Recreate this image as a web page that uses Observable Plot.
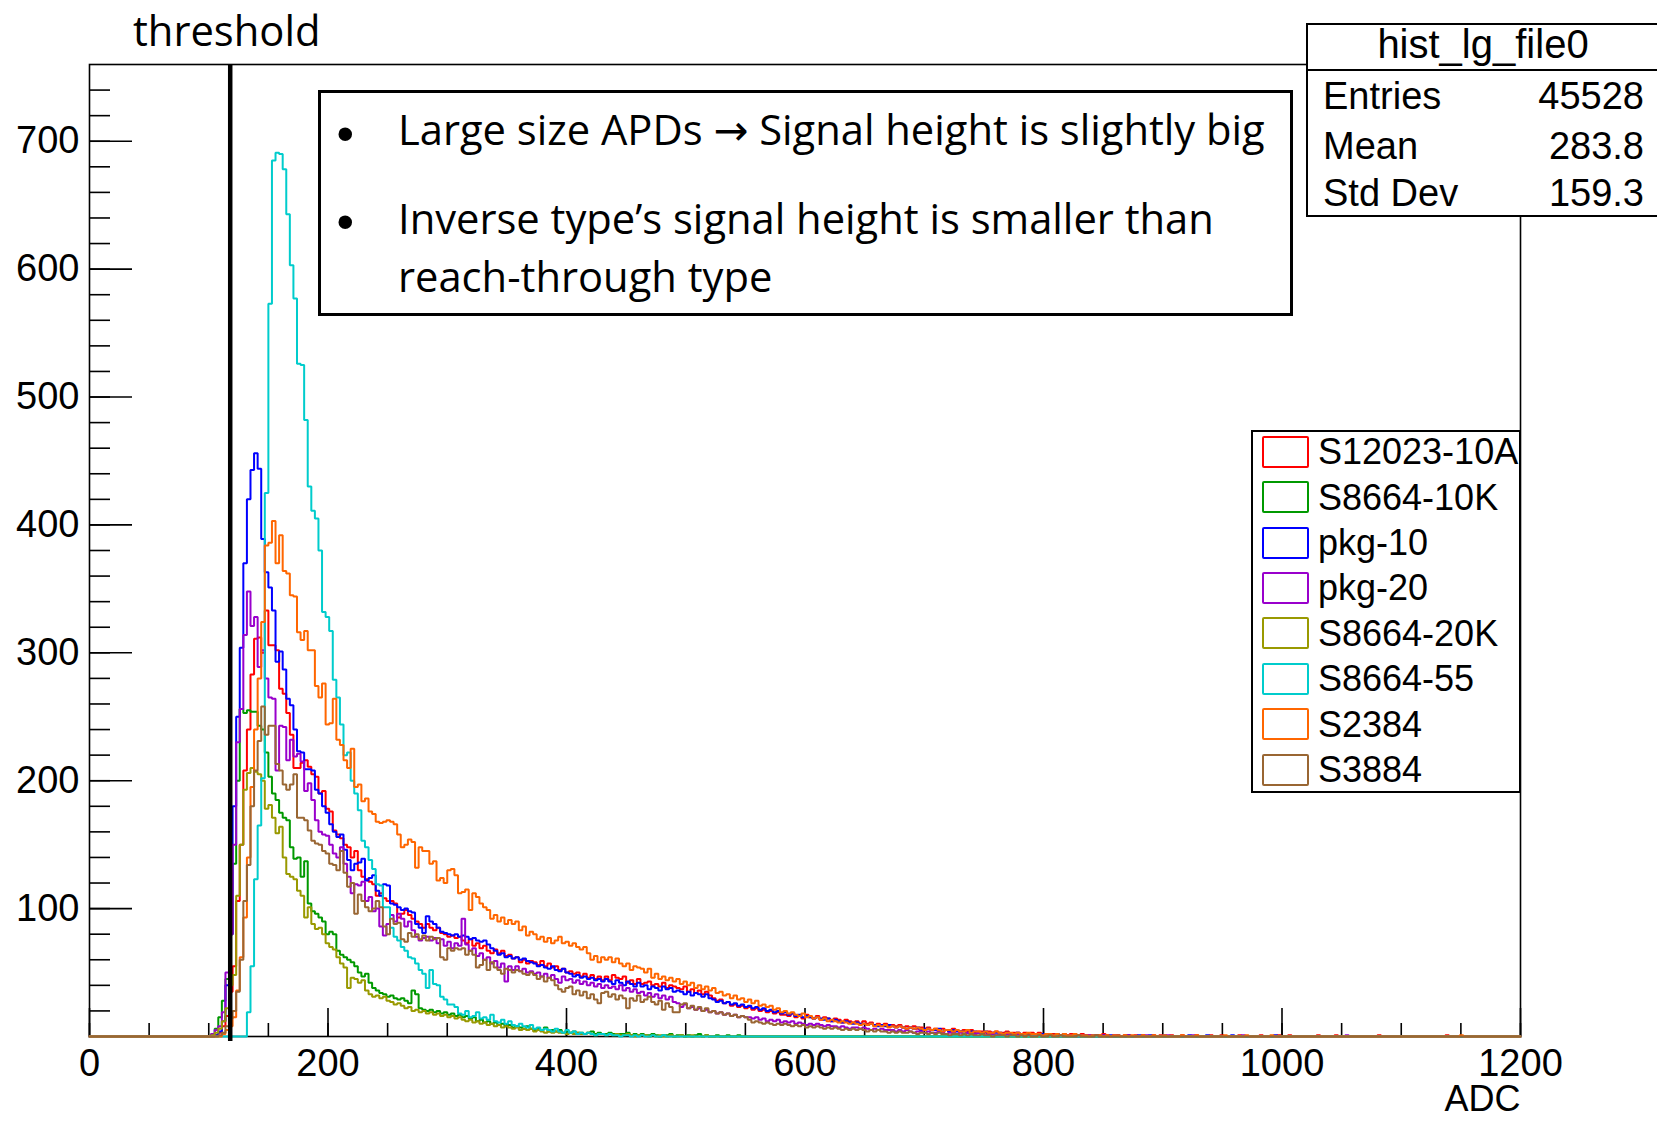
<!DOCTYPE html>
<html>
<head>
<meta charset="utf-8">
<script src="https://cdn.jsdelivr.net/npm/d3@7"></script>
<script src="https://cdn.jsdelivr.net/npm/@observablehq/plot@0.6"></script>
<style>
html,body{margin:0;padding:0;background:#fff;}
body{width:1657px;height:1122px;overflow:hidden;position:relative;}
#chart{position:absolute;left:0;top:0;}
.abs{position:absolute;white-space:nowrap;line-height:1;}
.cal{font-family:"Open Sans",sans-serif;font-size:41.7px;color:#000;}
.hel{font-family:"Liberation Sans",Arial,sans-serif;font-size:38px;color:#000;}
.arrow{font-family:"DejaVu Sans",sans-serif;}
#note{position:absolute;left:318px;top:90px;width:975px;height:226px;border:3px solid #000;box-sizing:border-box;background:#fff;}
#stats{position:absolute;left:1306px;top:23px;width:370px;height:194px;border:2px solid #000;box-sizing:border-box;background:#fff;}
#legend{position:absolute;left:1251px;top:430px;width:270px;height:363px;border:2px solid #000;box-sizing:border-box;background:#fff;}
</style>
</head>
<body>
<div id="chart"></div>
<script>
// ---------------- data ----------------
const binWidth = 3;          // ADC per bin
const firstBin = 102;        // ADC of first listed bin
const xMax = 1200;
const thresholdADC = [118];

const seriesNames = ["S12023-10A","S8664-10K","pkg-10","pkg-20","S8664-20K","S8664-55","S2384","S3884"];
const seriesColors = ["#ff0000","#009900","#0000ff","#9900cc","#999900","#00cccc","#ff6600","#996633"];

const s12023_10A = [
0,1,3,8,16,35,55,106,150,208,
240,283,311,312,300,333,306,306,302,272,
268,253,236,210,210,214,216,211,205,203,
190,192,178,176,161,158,155,150,148,140,
145,130,125,123,121,119,110,112,108,106,
106,104,93,96,99,95,92,90,88,85,
88,85,83,85,81,80,78,79,77,78,
75,73,76,71,73,69,71,67,65,68,
65,67,63,64,61,62,58,60,57,59,
58,56,59,55,57,54,55,52,53,50,
51,49,50,47,49,46,48,45,47,44,
47,44,48,46,45,47,42,44,41,45,
41,42,43,40,41,39,42,38,40,39,
38,37,39,35,37,34,36,33,35,32,
30,28,29,26,27,24,25,23,24,22,
23,21,22,20,21,19,20,18,19,17,
17,16,18,15,16,14,17,15,14,16,
13,15,14,12,14,13,11,13,12,11,
12,10,12,10,11,9,10,9,10,8,
9,8,9,7,8,7,8,6,7,6,
7,5,6,5,6,5,4,6,5,4,
5,4,5,3,4,4,3,4,3,4,
3,3,4,2,3,3,2,3,2,3,
2,3,2,2,1,2,2,1,2,1,
2,1,1,2,1,1,0,1,1,2,
1,0,1,1,0,1,1,0,1,0,
1,0,0,1,0,1,0,0,1,0,
0,1,0,0,0,1,0,0,0,1,
0,0,1,0,0,0,0,1,0,0,
0,0,0,1,0,0,0,0,1,0,
0,1,0,0,0,0,0,0,0,1,
0,0,0,0,1,0,0,0,0,0,
0,0,0,0,0,0,1,0,0,0,
0,0,0,0,0,0,0,0,0,0,
0,0,0,0,0,1,0,0,0,0];

const s8664_10K = [
2,6,15,28,45,80,135,200,256,253,
255,254,254,243,240,222,203,190,185,175,
171,169,148,139,140,125,137,104,98,96,
93,90,80,82,80,67,64,62,60,58,
55,50,47,49,42,38,36,34,33,31,
32,30,29,30,28,26,36,33,22,21,
20,21,19,20,18,19,17,18,16,17,
15,16,14,15,12,13,11,12,10,11,
9,10,8,9,7,8,7,6,8,6,
5,6,5,7,4,5,4,5,3,4,
3,4,3,3,2,3,4,2,3,2,
2,3,2,1,2,2,3,1,2,1,
2,1,1,2,1,0,1,1,2,0,
1,1,0,1,0,1,2,0,1,0,
0,1,0,0,1,0,0,1,0,0];

const pkg_10 = [
0,1,4,12,40,80,180,250,304,370,
420,443,456,444,389,363,351,333,293,301,
287,264,259,240,223,222,209,209,208,193,
190,180,175,166,160,156,158,146,138,130,
135,136,139,122,124,126,114,110,119,118,
104,103,101,99,100,98,97,88,85,81,
94,90,88,85,82,81,80,79,80,78,
79,78,76,77,75,74,75,72,69,67,
64,65,62,63,61,62,60,61,59,58,
57,55,56,54,53,55,52,51,53,50,
49,47,48,46,47,45,46,44,45,43,
45,43,41,44,42,40,43,41,39,42,
39,40,37,39,38,36,39,37,38,35,
36,35,33,35,32,34,33,31,33,30,
29,27,28,26,27,25,26,24,25,23,
24,22,23,21,22,20,21,19,20,18,
19,17,18,16,17,15,16,15,14,15,
14,13,14,12,13,12,11,12,11,10,
11,10,10,9,10,9,8,9,8,9,
8,7,8,7,6,7,6,7,5,6,
6,5,5,6,4,5,4,5,4,4,
4,3,4,4,3,3,4,2,3,3,
3,2,3,2,2,3,2,2,1,2,
2,1,2,2,1,1,2,1,1,1,
1,1,0,1,1,0,1,1,0,1,
0,1,0,1,0,0,1,0,0,1,
0,0,1,0,0,0,1,0,0,0,
0,0,0,1,0,0,0,0,1,0,
0,0,0,0,0,1,0,0,0,0,
0,0,0,0,0,0,0,1,0,0];

const pkg_20 = [
2,5,8,19,50,80,150,230,256,314,
348,321,328,289,302,280,265,264,208,243,
242,216,232,219,221,215,192,198,185,169,
160,158,157,150,143,140,148,135,125,112,
119,118,121,106,109,98,100,86,79,88,
95,90,96,92,86,90,83,78,75,77,
78,75,77,73,76,71,74,69,73,71,
92,72,67,69,63,65,60,62,57,59,
54,57,43,55,52,55,51,53,50,51,
49,50,47,49,46,48,45,42,47,44,
45,42,44,41,43,40,42,39,41,38,
40,38,39,37,40,36,38,35,37,34,
35,32,34,31,33,30,32,29,31,27,
26,23,25,22,23,21,22,20,21,19,
20,18,19,17,18,16,17,15,16,15,
15,14,15,13,14,12,13,12,13,11,
12,11,12,10,11,10,9,10,9,10,
9,8,9,8,8,7,8,7,6,7,
7,6,7,6,5,6,5,6,5,5,
5,4,5,4,5,4,3,4,4,3,
4,3,3,4,3,2,3,3,2,3,
2,3,2,2,3,2,1,2,2,1,
2,1,2,1,1,2,1,1,1,0,
1,1,0,1,1,0,1,0,1,0,
1,0,0,1,0,1,0,0,0,1,
0,0,1,0,0,0,1,0,0,0,
0,1,0,0,0,0,0,1,0,0,
0,0,0,0,1,0,0,0,0,0,
0,0,0,0,0,0,0,0,1,0,
0,0,0,0,0,0,0,0,0,0,
0,0,0,0,0,0,0,0,0,0,
0,0,0,0,0,0,0,1,0,0];

const s8664_20K = [
1,3,6,12,22,40,48,110,150,193,
206,210,207,205,200,178,181,171,159,164,
140,127,125,123,114,110,93,101,88,84,
85,80,73,70,68,62,57,54,38,46,
45,42,44,36,33,31,32,30,31,28,
27,25,26,24,22,23,20,21,19,20,
18,19,17,18,16,17,15,16,14,15,
13,12,13,11,12,10,11,9,10,8,
9,7,8,7,6,7,5,6,5,6,
4,5,4,3,4,3,4,3,3,2,
3,2,3,2,2,3,2,1,2,2,
1,2,1,2,1,1,2,1,0,1,
1,1,0,1,0,1,0,0,1,0,
0,1,0,0,1,0,0,0,1,0];

const s8664_55 = [
0,0,0,0,0,0,0,0,0,0,
19,55,123,165,202,425,573,685,691,690,
678,643,603,577,526,525,482,430,411,405,
380,332,328,317,279,265,244,220,222,200,
190,177,153,148,138,131,119,118,101,101,
85,78,75,70,67,62,61,57,52,49,
38,52,41,40,31,29,25,25,23,18,
17,20,15,16,19,14,15,13,17,12,
11,13,10,12,9,8,10,8,7,9,
6,7,5,6,5,4,6,4,3,5,
3,4,2,3,2,3,2,1,2,2,
1,2,1,1,0,1,1,0,1,0,
1,0,0,1,0,0,1,0,0,0];

const s2384 = [
0,0,0,2,5,8,15,36,62,93,
140,195,240,280,324,384,386,403,370,392,
364,362,345,344,316,310,317,302,302,274,
265,276,244,245,264,232,228,216,210,225,
195,197,184,186,176,174,168,167,168,169,
168,166,158,148,150,154,152,132,148,145,
145,135,137,122,124,120,130,131,126,112,
113,115,99,112,109,104,101,99,92,95,
90,93,88,91,88,90,83,86,79,82,
80,76,78,74,77,73,75,78,73,74,
71,73,70,68,70,65,60,63,58,62,
60,62,58,61,57,55,57,52,55,54,
53,50,53,46,49,45,47,44,46,43,
45,41,43,40,42,38,40,37,39,36,
38,34,35,32,33,30,32,29,30,27,
29,26,28,24,25,23,24,21,22,19,
20,18,19,17,16,18,15,16,14,15,
13,14,12,13,12,11,12,11,10,11,
10,9,10,9,10,8,9,8,9,7,
8,7,8,7,6,7,6,7,6,5,
6,5,6,5,4,5,5,4,5,4,
4,5,3,4,4,3,4,3,3,4,
3,2,3,3,2,3,2,2,3,2,
2,2,1,2,2,1,2,1,2,1,
1,2,1,1,1,0,1,1,1,0,
1,0,1,1,0,1,0,1,0,0,
1,0,0,1,0,0,1,0,0,0,
0,1,0,0,0,1,0,0,0,0,
0,0,0,1,0,0,0,0,0,1,
0,0,0,0,0,0,1,0,0,0,
0,0,0,0,0,0,0,0,0,0,
0,0,0,0,0,0,0,0,0,0,
0,0,0,0,0,0,0,0,0,0,
0,0,0,0,0,0,0,0,0,0,
0,0,0,0,0,0,0,0,0,1];

const s3884 = [
0,0,1,3,8,14,20,35,60,106,
134,180,208,231,258,236,243,243,213,208,
197,193,197,205,171,171,169,161,153,151,
150,145,143,135,134,130,145,128,117,120,
96,111,106,101,98,100,106,101,86,80,
92,88,89,76,74,81,78,80,76,79,
75,78,76,77,62,60,69,67,69,68,
69,64,67,64,54,56,60,52,58,54,
52,49,53,52,50,52,51,49,48,50,
48,45,47,43,46,44,40,37,35,38,
39,33,36,32,35,30,33,29,26,34,
35,31,33,29,32,30,22,30,28,32,
27,29,31,27,25,28,21,26,23,19,
19,25,26,22,24,21,23,20,22,19,
20,18,19,17,18,16,17,15,16,15,
13,11,12,11,10,11,10,9,10,9,
10,9,8,9,8,9,7,8,7,8,
7,6,7,6,7,6,5,6,5,6,
5,6,5,4,5,4,5,4,4,3,
4,3,4,3,3,4,3,2,3,3,
2,3,2,3,2,2,1,2,2,1,
2,1,2,1,1,2,1,1,0,1,
1,1,0,1,1,0,1,0,1,0,
0,1,0,0,1,0,0,1,0,0,
0,0,1,0,0,0,0,1,0,0];

const seriesValues = [s12023_10A, s8664_10K, pkg_10, pkg_20, s8664_20K, s8664_55, s2384, s3884];

const xMajorTicks = [0,200,400,600,800,1000,1200];
const xTickLabels = ["0","200","400","600","800","1000","1200"];
const yMajorTicks = [100,200,300,400,500,600,700];
const yTickLabels = ["100","200","300","400","500","600","700"];
const xMinorTicks = d3.range(0, 1201, 50);
const yMinorTicks = d3.range(20, 760, 20);
const xAxisTitle = "ADC";

const statsTitle = "hist_lg_file0";
const statsLabels = ["Entries","Mean","Std Dev"];
const statsValues = ["45528","283.8","159.3"];

const noteLines = [
  {bullet: true, parts: ["Large size APDs ", "\u2192", " Signal height is slightly big"]},
  {bullet: true, parts: ["Inverse type\u2019s signal height is smaller than"]},
  {bullet: false, parts: ["reach-through type"]}
];
const thresholdLabel = "threshold";

// ---------------- layout ----------------
const W = 1657, H = 1122;
const mL = 89, mR = 137, mT = 64, mB = 86;
const plotW = W - mL - mR, plotH = H - mT - mB;
const nBins = xMax / binWidth;
const offset = firstBin / binWidth;

function histPoints(arr) {
  const pts = [];
  for (let k = 0; k < nBins; k++) {
    const j = k - offset;
    pts.push({x: k * binWidth, y: (j >= 0 && j < arr.length) ? arr[j] : 0});
  }
  pts.push({x: xMax, y: pts[pts.length - 1].y});
  return pts;
}

const font = "Liberation Sans, Arial, sans-serif";
const histMarks = seriesValues.map((arr, i) =>
  Plot.line(histPoints(arr), {x: "x", y: "y", stroke: seriesColors[i], strokeWidth: 2, curve: "step-after", strokeLinejoin: "miter"})
);

const chart = Plot.plot({
  width: W, height: H,
  marginLeft: mL, marginRight: mR, marginTop: mT, marginBottom: mB,
  x: {domain: [0, xMax]},
  y: {domain: [0, 760]},
  style: {background: "transparent", color: "#000", fontFamily: font},
  marks: [
    Plot.frame({stroke: "#000", strokeWidth: 1.6}),
    Plot.ruleY(yMinorTicks, {stroke: "#000", strokeWidth: 1.6, insetRight: plotW - 21}),
    Plot.ruleY(yMajorTicks, {stroke: "#000", strokeWidth: 1.6, insetRight: plotW - 43}),
    Plot.ruleX(xMinorTicks, {stroke: "#000", strokeWidth: 1.6, insetTop: plotH - 13}),
    Plot.ruleX(xMajorTicks, {stroke: "#000", strokeWidth: 1.6, insetTop: plotH - 28}),
    Plot.axisX(xMajorTicks, {tickSize: 0, tickPadding: 13, fontSize: 38, fontFamily: font, label: null,
      tickFormat: d => xTickLabels[xMajorTicks.indexOf(d)]}),
    Plot.axisY(yMajorTicks, {tickSize: 0, tickPadding: 10, fontSize: 38, fontFamily: font, label: null,
      tickFormat: d => yTickLabels[yMajorTicks.indexOf(d)]}),
    ...histMarks,
    Plot.ruleX(thresholdADC, {stroke: "#000", strokeWidth: 4.5, insetBottom: -5}),
    Plot.text([xAxisTitle], {text: d => d, frameAnchor: "bottom-right", dy: 63, fontSize: 36, fontFamily: font, textAnchor: "end", lineAnchor: "middle"})
  ]
});
document.getElementById("chart").appendChild(chart);

// ---------------- overlays ----------------
function el(tag, cls, style, text, parent) {
  const e = document.createElement(tag);
  if (cls) e.className = cls;
  Object.assign(e.style, style);
  if (text != null) e.textContent = text;
  (parent || document.body).appendChild(e);
  return e;
}

// threshold label
el("div", "abs cal", {left: "133px", top: "8.6px"}, thresholdLabel);

// note box
const note = el("div", null, {}, null); note.id = "note";
const noteTops = [15, 104, 162];
const bulletTops = [15.7, 104.4];
noteLines.forEach((ln, i) => {
  if (ln.bullet) el("div", "abs", {left: "15.5px", top: bulletTops[i] + "px", fontFamily: "Liberation Sans, Arial, sans-serif", fontSize: "50px"}, "\u2022", note);
  const d = el("div", "abs cal", {left: "77px", top: noteTops[i] + "px"}, null, note);
  ln.parts.forEach(p => {
    const s = document.createElement("span");
    if (p === "\u2192") s.className = "arrow";
    s.textContent = p;
    d.appendChild(s);
  });
});

// stats box
const stats = el("div", null, {}, null); stats.id = "stats";
el("div", "abs hel", {left: "0px", width: "350px", textAlign: "center", top: "-0.9px", fontSize: "40px"}, statsTitle, stats);
el("div", null, {position: "absolute", left: "0px", width: "100%", top: "44px", height: "2px", background: "#000"}, null, stats);
const rowTops = [51.8, 101.8, 148.8];
statsLabels.forEach((lab, i) => {
  el("div", "abs hel", {left: "15px", top: rowTops[i] + "px"}, lab, stats);
  el("div", "abs hel", {left: "0px", width: "336px", textAlign: "right", top: rowTops[i] + "px"}, statsValues[i], stats);
});

// legend
const leg = el("div", null, {}, null); leg.id = "legend";
seriesNames.forEach((name, i) => {
  const cy = 451.7 + 45.4 * i - 432;
  el("div", null, {position: "absolute", left: "9px", top: (cy - 16) + "px", width: "47px", height: "32px",
    border: "2px solid " + seriesColors[i], boxSizing: "border-box", borderRadius: "2px"}, null, leg);
  el("div", "abs hel", {left: "65px", top: (cy - 17.6) + "px", fontSize: "36px"}, name, leg);
});
</script>
</body>
</html>
